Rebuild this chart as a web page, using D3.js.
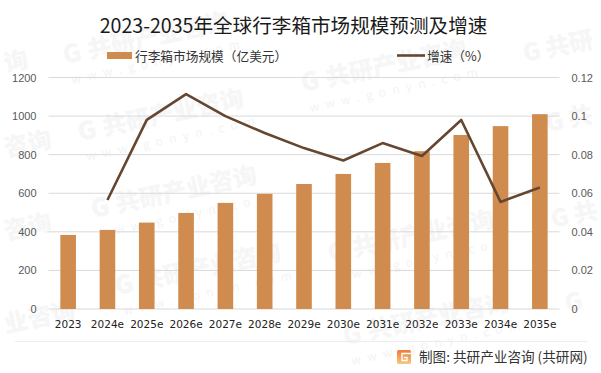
<!DOCTYPE html>
<html>
<head>
<meta charset="utf-8">
<script src="https://cdn.jsdelivr.net/npm/d3@7"></script>
<style>
  html, body { margin: 0; padding: 0; background: #fff; }
  text { font-family: "Noto Sans CJK SC", "Noto Sans", sans-serif; }
</style>
</head>
<body>
<svg id="chart" width="601" height="373"></svg>
<script>
const years = ["2023","2024e","2025e","2026e","2027e","2028e","2029e","2030e","2031e","2032e","2033e","2034e","2035e"];
const market_size = [384,410,448,498,550,597,648,700,757,818,902,948,1010];
const growth = [null,0.0565,0.098,0.1114,0.1,0.0912,0.0834,0.077,0.086,0.0793,0.098,0.0555,0.063];
const left_ticks = [0,200,400,600,800,1000,1200];
const right_ticks = [0,0.02,0.04,0.06,0.08,0.1,0.12];
// full watermarks, then the pieces that show at the left and right edges
const watermark_spots = [[65,64],[80,141],[303,92],[93,218],[117,295],[330,262],[345,345]];
const watermark_left = [[6,72,"询"],[6,157,"咨询"],[6,240,"咨询"],[6,333,"业咨询"]];
const watermark_right = [[525,62,"G 共研"],[548,132,"G 共"],[553,228,"G 共"],[567,312,"G"]];

const svg = d3.select("#chart");
const margin = { top: 77.5, right: 41.5, bottom: 64, left: 48.5 };
const width = 601, height = 373;
const mark_color = "#f6f6f6";

// watermark goes under everything
const marks = svg.append("g");
watermark_spots.forEach(([x, y]) => {
    const g = marks.append("g").attr("transform", `translate(${x},${y}) rotate(-12)`);
    g.append("text").attr("font-size", 25).attr("font-weight", 900)
        .attr("fill", mark_color).text("G");
    g.append("text").attr("x", 25).attr("font-size", 24).attr("font-weight", 900)
        .attr("fill", mark_color).text("共研产业咨询");
    g.append("text").attr("y", 21).attr("x", 3).attr("font-size", 12)
        .attr("letter-spacing", 6.5).attr("fill", "#f3f3f3").text("www.gonyn.com");
});
watermark_left.concat(watermark_right).forEach(([x, y, label]) => {
    marks.append("text").attr("transform", `translate(${x},${y}) rotate(-12)`)
        .attr("font-size", 24).attr("font-weight", 900)
        .attr("fill", mark_color).text(label);
});

const x_scale = d3.scaleBand().domain(years)
    .range([margin.left, width - margin.right]);
const y_left = d3.scaleLinear().domain([0, 1200])
    .range([height - margin.bottom, margin.top]);
const y_right = d3.scaleLinear().domain([0, 0.12])
    .range([height - margin.bottom, margin.top]);

// gridlines
svg.append("g").selectAll("line").data(left_ticks).join("line")
    .attr("x1", margin.left).attr("x2", width - margin.right)
    .attr("y1", d => y_left(d)).attr("y2", d => y_left(d))
    .attr("stroke", "#d9d9d9").attr("stroke-width", 1);

// bars
svg.append("g").selectAll("rect").data(market_size).join("rect")
    .attr("x", (d, i) => x_scale(years[i]) + x_scale.bandwidth() / 2 - 7.8)
    .attr("width", 15.6)
    .attr("y", d => y_left(d))
    .attr("height", d => y_left(0) - y_left(d))
    .attr("fill", "#d08c4e");

// growth line, 2023 has no value
const line = d3.line()
    .defined(d => d != null)
    .x((d, i) => x_scale(years[i]) + x_scale.bandwidth() / 2)
    .y(d => y_right(d));
svg.append("path").attr("d", line(growth))
    .attr("fill", "none").attr("stroke", "#654731").attr("stroke-width", 2.6)
    .attr("stroke-linejoin", "round");

// axes
const left_axis = d3.axisLeft(y_left).tickValues(left_ticks)
    .tickFormat(d => String(d)).tickSize(0).tickPadding(12);
const right_axis = d3.axisRight(y_right).tickValues(right_ticks)
    .tickFormat(d => String(d)).tickSize(0).tickPadding(12);
const bottom_axis = d3.axisBottom(x_scale).tickSize(0).tickPadding(12);

[
    svg.append("g").attr("transform", `translate(${margin.left},0)`).call(left_axis),
    svg.append("g").attr("transform", `translate(${width - margin.right},0)`).call(right_axis)
].forEach(g => {
    g.select(".domain").remove();
    g.selectAll("text").attr("font-size", 11).attr("fill", "#595959")
        .style("font-family", '"Liberation Sans", sans-serif');
});
const bottom = svg.append("g").attr("transform", `translate(0,${height - margin.bottom})`).call(bottom_axis);
bottom.select(".domain").remove();
bottom.selectAll("text").attr("font-size", 10.5).attr("fill", "#222")
    .style("font-family", '"DejaVu Sans", sans-serif');

// title
svg.append("text").attr("x", 293.5).attr("y", 33).attr("text-anchor", "middle")
    .attr("font-size", 19.6).attr("fill", "#1a1a1a").text("2023-2035年全球行李箱市场规模预测及增速");

// legend
const legend = svg.append("g");
legend.append("rect").attr("x", 107).attr("y", 52).attr("width", 25).attr("height", 7).attr("fill", "#d08c4e");
legend.append("text").attr("x", 135).attr("y", 61).attr("font-size", 12.7).attr("fill", "#333").text("行李箱市场规模（亿美元）");
legend.append("line").attr("x1", 397).attr("x2", 425).attr("y1", 55.5).attr("y2", 55.5)
    .attr("stroke", "#654731").attr("stroke-width", 2.6);
legend.append("text").attr("x", 427).attr("y", 61).attr("font-size", 12.7).attr("fill", "#333").text("增速（%）");

// footer
svg.append("line").attr("x1", 15).attr("x2", 587).attr("y1", 341.5).attr("y2", 341.5)
    .attr("stroke", "#ececec");
const grad = svg.append("defs").append("linearGradient").attr("id", "logo_grad")
    .attr("x1", 0).attr("y1", 0).attr("x2", 0).attr("y2", 1);
grad.append("stop").attr("offset", "0%").attr("stop-color", "#ee7b3c");
grad.append("stop").attr("offset", "100%").attr("stop-color", "#f8c77e");
const logo = svg.append("g").attr("transform", "translate(397,350)");
logo.append("rect").attr("width", 14).attr("height", 14).attr("rx", 1.5).attr("fill", "url(#logo_grad)");
logo.append("path").attr("d", "M14 3.5H5V10.5H10V7.5H7")
    .attr("fill", "none").attr("stroke", "#fff").attr("stroke-width", 1.4);
svg.append("text").attr("x", 419).attr("y", 361.5).attr("font-size", 13.6)
    .attr("fill", "#333").text("制图: 共研产业咨询 (共研网)");
</script>
</body>
</html>
